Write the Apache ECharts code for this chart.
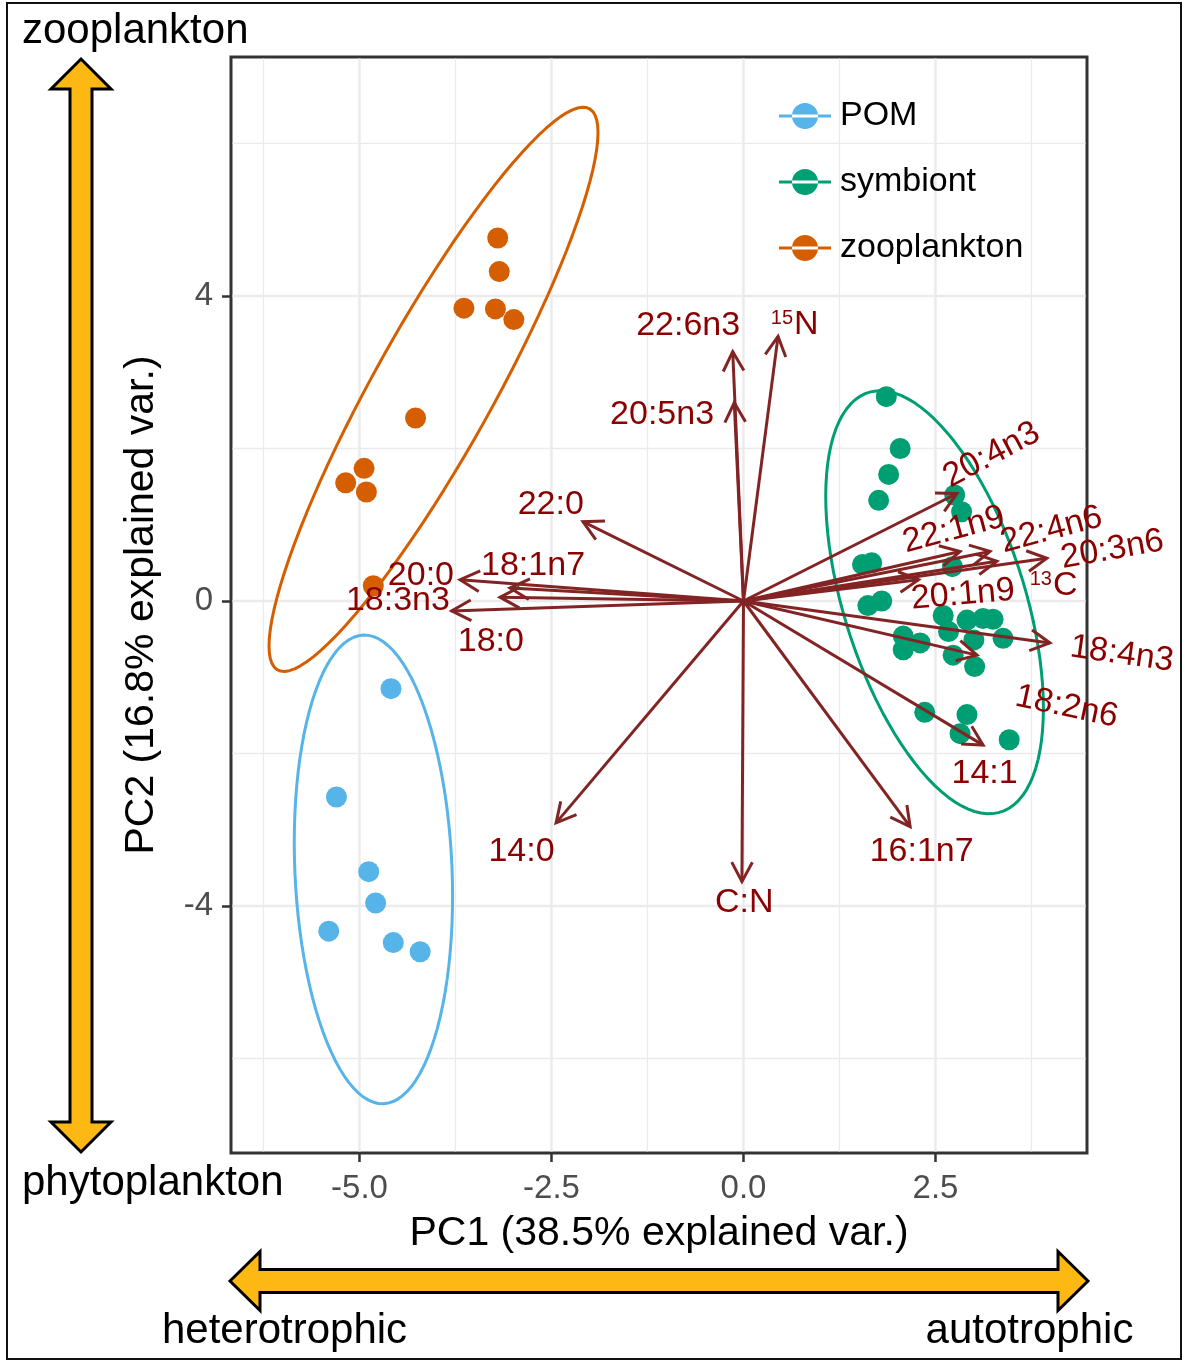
<!DOCTYPE html>
<html>
<head>
<meta charset="utf-8">
<script src="https://cdn.jsdelivr.net/npm/echarts@6/dist/echarts.min.js"></script>
<style>html,body{margin:0;padding:0;background:#fff}#chart{width:1185px;height:1364px}</style>
</head>
<body>
<div id="chart"></div>
<script>
// ---------------- data ----------------
const groups = ['POM', 'symbiont', 'zooplankton'];
const groupColors = ['#56B4E9', '#009E73', '#D55E00'];

const pomPoints = [[-4.59,-1.15],[-5.30,-2.57],[-4.88,-3.55],[-4.79,-3.96],[-5.40,-4.33],[-4.56,-4.48],[-4.21,-4.60]];
const symbiontPoints = [[1.86,2.68],[2.04,2.00],[1.89,1.66],[1.76,1.32],[2.75,1.39],[2.84,1.17],
  [1.55,0.48],[1.67,0.50],[2.72,0.45],[1.62,-0.06],[1.80,0.00],[2.60,-0.19],[2.67,-0.40],
  [2.91,-0.25],[3.12,-0.23],[3.25,-0.24],[3.00,-0.51],[3.38,-0.49],[2.08,-0.46],[2.30,-0.55],
  [2.08,-0.64],[2.73,-0.71],[3.01,-0.86],[2.36,-1.46],[2.91,-1.49],[2.82,-1.74],[3.46,-1.82]];
const zooplanktonPoints = [[-3.20,4.76],[-3.18,4.32],[-3.64,3.84],[-3.23,3.83],[-2.99,3.69],
  [-4.27,2.40],[-4.94,1.74],[-5.18,1.55],[-4.91,1.43],[-4.82,0.20]];

const loadingNames = ['22:6n3','15N','20:5n3','20:4n3','22:1n9','22:4n6','13C','20:3n6','20:1n9',
  '18:4n3','18:2n6','14:1','16:1n7','C:N','14:0','22:0','20:0','18:1n7','18:3n3','18:0'];
const loadingTips = [[-0.14,3.27],[0.45,3.47],[-0.12,2.60],[2.78,1.41],[2.82,0.65],[3.21,0.65],
  [3.30,0.52],[3.95,0.56],[2.28,0.28],[3.99,-0.55],[3.04,-0.71],[3.12,-1.89],[2.17,-2.96],
  [-0.02,-3.68],[-2.44,-2.91],[-2.09,1.04],[-3.69,0.28],[-3.04,0.17],[-3.17,0.05],[-3.80,-0.13]];

const xTickValues = [-5, -2.5, 0, 2.5];
const xMinorValues = [-6.25, -3.75, -1.25, 1.25, 3.75];
const yTickValues = [-4, 0, 4];
const yMinorValues = [-6, -2, 2, 6];

// ---------------- layout (label anchors in data units, rotation in degrees) ----------------
const labelPlacement = [[-0.72,3.65,0],[0.645,3.663,0],[-1.06,2.48,0],[3.25,1.95,28],[2.75,0.97,15],
  [4.02,0.97,15],[4.017,0.243,0],[4.81,0.71,10],[2.86,0.12,5],[4.92,-0.66,-8],[4.20,-1.35,-12],
  [3.14,-2.23,0],[2.32,-3.25,0],[0.01,-3.91,0],[-2.89,-3.25,0],[-2.51,1.30,0],[-4.20,0.37,0],
  [-2.74,0.50,0],[-4.50,0.04,0],[-3.29,-0.50,0]];

const FONT = '"Liberation Sans", Arial, Helvetica, sans-serif';
const ARROW_COLOR = '#832424';
const LABEL_COLOR = '#8B0000';
const TEXT_DY = 3; // baseline correction for middle-aligned text

// data ellipse (normal, 95%) per group, as ggbiplot does
function dataEllipse(pts, prob) {
  const n = pts.length;
  let mx = 0, my = 0;
  pts.forEach(p => { mx += p[0]; my += p[1]; });
  mx /= n; my /= n;
  let sxx = 0, syy = 0, sxy = 0;
  pts.forEach(p => { const dx = p[0]-mx, dy = p[1]-my; sxx += dx*dx; syy += dy*dy; sxy += dx*dy; });
  sxx /= (n-1); syy /= (n-1); sxy /= (n-1);
  const r11 = Math.sqrt(sxx), r12 = sxy / r11, r22 = Math.sqrt(syy - r12*r12);
  const ed = Math.sqrt(-2 * Math.log(1 - prob));
  const out = [];
  for (let i = 0; i <= 100; i++) {
    const th = -Math.PI + 2*Math.PI*i/100;
    const c = Math.cos(th), s = Math.sin(th);
    out.push([mx + ed*c*r11, my + ed*(c*r12 + s*r22)]);
  }
  return out;
}

const groupPoints = [pomPoints, symbiontPoints, zooplanktonPoints];

const gridData = [];
xTickValues.forEach(v => gridData.push([v, 0, 0]));
xMinorValues.forEach(v => gridData.push([v, 0, 1]));
yTickValues.forEach(v => gridData.push([0, v, 2]));
yMinorValues.forEach(v => gridData.push([0, v, 3]));

function renderGrid(params, api) {
  const cs = params.coordSys;
  const kind = api.value(2);
  let shape;
  if (kind < 2) {
    const x = api.coord([api.value(0), 0])[0];
    shape = {x1: x, y1: cs.y + 1.5, x2: x, y2: cs.y + cs.height - 1.5};
  } else {
    const y = api.coord([0, api.value(1)])[1];
    shape = {x1: cs.x + 1.5, y1: y, x2: cs.x + cs.width - 1.5, y2: y};
  }
  return {type: 'line', shape, style: {stroke: '#EBEBEB', lineWidth: (kind % 2 === 0) ? 2.4 : 1.3}};
}

function renderArrow(params, api) {
  const o = api.coord([0, 0]);
  const t = api.coord([api.value(0), api.value(1)]);
  const ang = Math.atan2(t[1]-o[1], t[0]-o[0]);
  const L = 22, h = 28 * Math.PI / 180;
  const a1 = [t[0] - L*Math.cos(ang-h), t[1] - L*Math.sin(ang-h)];
  const a2 = [t[0] - L*Math.cos(ang+h), t[1] - L*Math.sin(ang+h)];
  return {type: 'group', children: [
    {type: 'line', shape: {x1: o[0], y1: o[1], x2: t[0], y2: t[1]}, style: {stroke: ARROW_COLOR, lineWidth: 3}},
    {type: 'polyline', shape: {points: [a1, t, a2]}, style: {stroke: ARROW_COLOR, lineWidth: 3, fill: null}}
  ]};
}

function renderLabel(params, api) {
  const i = params.dataIndex;
  const p = labelPlacement[i];
  const c = api.coord([p[0], p[1]]);
  const name = loadingNames[i];
  const rot = p[2] * Math.PI / 180;
  const iso = /^(\d+)([A-Z])$/.exec(name);
  const cx = c[0] - TEXT_DY * Math.sin(rot), cy = c[1] + TEXT_DY * Math.cos(rot);
  if (iso) {
    return {type: 'group', x: cx, y: cy, rotation: rot, children: [
      {type: 'text', x: 0, y: -6, style: {text: iso[1], fill: LABEL_COLOR, font: '20px ' + FONT, align: 'right', verticalAlign: 'middle'}},
      {type: 'text', x: 1, y: 0, style: {text: iso[2], fill: LABEL_COLOR, font: '34px ' + FONT, align: 'left', verticalAlign: 'middle'}}
    ]};
  }
  return {type: 'text', x: cx, y: cy, rotation: rot,
    style: {text: name, fill: LABEL_COLOR, font: '34px ' + FONT, align: 'center', verticalAlign: 'middle'}};
}

const series = [];
series.push({type: 'custom', name: 'grid', silent: true, z: 1, clip: false, renderItem: renderGrid, data: gridData});
groups.forEach((g, k) => {
  series.push({type: 'scatter', name: g, data: groupPoints[k], symbol: 'circle', symbolSize: 21,
    itemStyle: {color: groupColors[k], opacity: 1}, z: 3, silent: true});
});
groups.forEach((g, k) => {
  series.push({type: 'line', name: g, data: dataEllipse(groupPoints[k], 0.95), showSymbol: false, symbol: 'none',
    smooth: false, clip: false, lineStyle: {color: groupColors[k], width: 3}, itemStyle: {color: groupColors[k]}, z: 4, silent: true});
});
series.push({type: 'custom', name: 'loadings', silent: true, z: 5, clip: false, renderItem: renderArrow, data: loadingTips});
series.push({type: 'custom', name: 'loadingLabels', silent: true, z: 6, clip: false, renderItem: renderLabel,
  data: loadingTips.map((d, i) => [labelPlacement[i][0], labelPlacement[i][1]])});

const legendIcon = 'path://M0,12L52,12L52,15L0,15Z M13,13.5A13,13,0,1,0,39,13.5A13,13,0,1,0,13,13.5Z';

const yellow = '#FDB813';
const option = {
  animation: false,
  backgroundColor: '#fff',
  grid: {left: 231, top: 57, width: 856, height: 1096, show: true, borderColor: '#333333', borderWidth: 3, backgroundColor: 'transparent', containLabel: false},
  xAxis: {
    type: 'value', min: -6.673, max: 4.473,
    axisLine: {show: false, onZero: false}, splitLine: {show: false},
    axisTick: {show: true, customValues: xTickValues, length: 9, lineStyle: {color: '#333333', width: 2.5}},
    axisLabel: {customValues: xTickValues, formatter: v => Number(v).toFixed(1), fontSize: 33, color: '#4D4D4D', fontFamily: FONT, margin: 19},
    name: 'PC1 (38.5% explained var.)', nameLocation: 'middle', nameGap: 60,
    nameTextStyle: {fontSize: 41, color: '#000', fontFamily: FONT}
  },
  yAxis: {
    type: 'value', min: -7.239, max: 7.134,
    axisLine: {show: false, onZero: false}, splitLine: {show: false},
    axisTick: {show: true, customValues: yTickValues, length: 9, lineStyle: {color: '#333333', width: 2.5}},
    axisLabel: {customValues: yTickValues, formatter: v => String(v), fontSize: 33, color: '#4D4D4D', fontFamily: FONT, margin: 18, padding: [6, 0, 0, 0]},
    name: 'PC2 (16.8% explained var.)', nameLocation: 'middle', nameGap: 69,
    nameTextStyle: {fontSize: 41, color: '#000', fontFamily: FONT}
  },
  legend: {
    data: groups, orient: 'vertical', left: 774, top: 94,
    icon: legendIcon, itemWidth: 52, itemHeight: 27, itemGap: 32,
    textStyle: {fontSize: 34, color: '#000', fontFamily: FONT, padding: [6, 0, 0, 4]},
    selectedMode: false
  },
  graphic: [
    {type: 'rect', shape: {x: 7, y: 3, width: 1174, height: 1356}, style: {fill: null, stroke: '#111', lineWidth: 2}, z: 100, silent: true},
    {type: 'polygon', shape: {points: [[81,59],[111,89],[92,89],[92,1122],[111,1122],[81,1152],[51,1122],[70,1122],[70,89],[51,89]]},
      style: {fill: yellow, stroke: '#000', lineWidth: 3, lineJoin: 'miter'}, z: 100, silent: true},
    {type: 'polygon', shape: {points: [[230,1281],[260,1251.5],[260,1269.5],[1058,1269.5],[1058,1251.5],[1088,1281],[1058,1310.5],[1058,1292.5],[260,1292.5],[260,1310.5]]},
      style: {fill: yellow, stroke: '#000', lineWidth: 3, lineJoin: 'miter'}, z: 100, silent: true},
    {type: 'text', x: 22, y: 31, style: {text: 'zooplankton', font: '42px ' + FONT, fill: '#000', align: 'left', verticalAlign: 'middle'}, z: 100, silent: true},
    {type: 'text', x: 22, y: 1183, style: {text: 'phytoplankton', font: '42px ' + FONT, fill: '#000', align: 'left', verticalAlign: 'middle'}, z: 100, silent: true},
    {type: 'text', x: 284.5, y: 1331, style: {text: 'heterotrophic', font: '42px ' + FONT, fill: '#000', align: 'center', verticalAlign: 'middle'}, z: 100, silent: true},
    {type: 'text', x: 1029.5, y: 1331, style: {text: 'autotrophic', font: '42px ' + FONT, fill: '#000', align: 'center', verticalAlign: 'middle'}, z: 100, silent: true}
  ],
  series: series
};

const chart = echarts.init(document.getElementById('chart'), null, {renderer: 'canvas'});
chart.setOption(option);
</script>
</body>
</html>
